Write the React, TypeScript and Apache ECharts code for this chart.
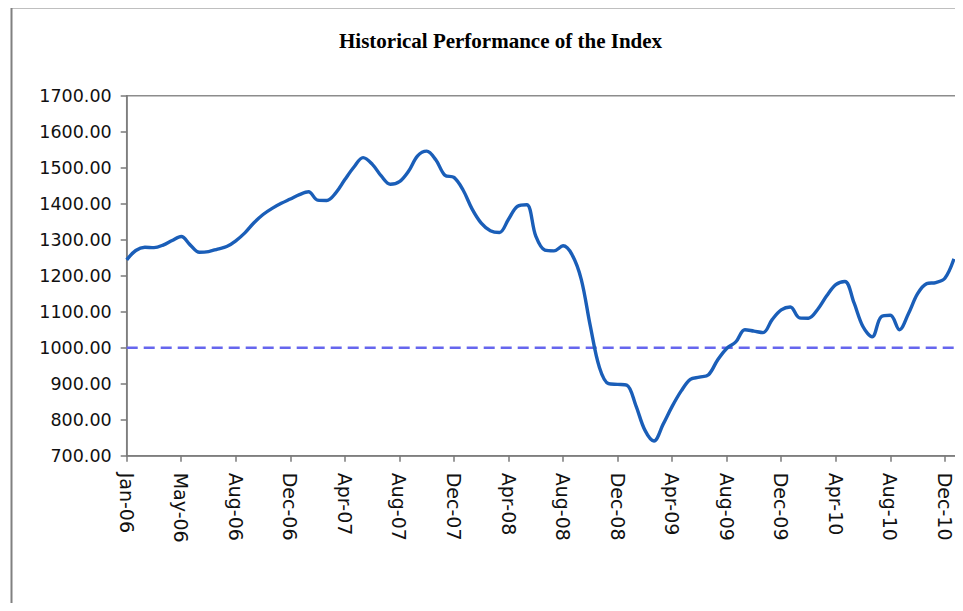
import React, { useEffect, useRef } from "react";
import * as echarts from "echarts";

// Tick labels (one every 6 samples on the x axis)
const tickLabels = [
  "Jan-06", "May-06", "Aug-06", "Dec-06", "Apr-07", "Aug-07", "Dec-07", "Apr-08",
  "Aug-08", "Dec-08", "Apr-09", "Aug-09", "Dec-09", "Apr-10", "Aug-10", "Dec-10",
];
const samplesPerTick = 6;
const xMax = 91.3;

const indexValues = [
  1244, 1270, 1279, 1278, 1285, 1298, 1309, 1285, 1265, 1267,
  1274, 1281, 1297, 1319, 1347, 1370, 1387, 1401, 1413, 1425,
  1433, 1410, 1409, 1430, 1467, 1502, 1528, 1510, 1477, 1454,
  1461, 1490, 1533, 1546, 1522, 1479, 1473, 1438, 1385, 1346,
  1325, 1320, 1357, 1393, 1397, 1310, 1271, 1269, 1283, 1258,
  1190, 1060, 945, 900, 898, 896, 840, 771, 741, 787,
  837, 880, 912, 918, 925, 966, 998, 1016, 1050, 1046,
  1042, 1078, 1105, 1113, 1083, 1082, 1106, 1144, 1175, 1184,
  1125, 1058, 1030, 1086, 1090, 1050, 1095, 1150, 1178, 1181,
  1193, 1247,
];
const baseLevel = 1000;

const yMin = 700;
const yMax = 1700;
const yStep = 100;

export default function App() {
  const ref = useRef<HTMLDivElement>(null);

  useEffect(() => {
    if (!ref.current) return;
    const chart = echarts.init(ref.current, null, { renderer: "svg" });
    const lineData = indexValues.map((v, i) => [i, v]);
    chart.setOption({
      animation: false,
      backgroundColor: "#ffffff",
      title: {
        text: "Historical Performance of the Index",
        left: 334,
        top: 25,
        textStyle: {
          fontFamily: "Liberation Serif",
          fontWeight: "bold",
          fontSize: 21,
          color: "#000000",
        },
      },
      graphic: [
        {
          type: "line",
          shape: { x1: 11, y1: 7.5, x2: 963, y2: 7.5 },
          style: { stroke: "#808080", lineWidth: 2 },
          silent: true,
        },
        {
          type: "line",
          shape: { x1: 11.5, y1: 7, x2: 11.5, y2: 611 },
          style: { stroke: "#808080", lineWidth: 2 },
          silent: true,
        },
      ],
      grid: {
        left: 126.7,
        top: 95.7,
        right: 6.3,
        bottom: 155.3,
        containLabel: false,
        outerBoundsMode: "none",
        show: true,
        borderColor: "#8c8c8c",
        borderWidth: 1.5,
      },
      xAxis: {
        type: "value",
        min: 0,
        max: xMax,
        interval: samplesPerTick,
        splitLine: { show: false },
        axisLine: { show: true, lineStyle: { color: "#7a7a7a", width: 1.5 } },
        axisTick: { show: true, length: 6, lineStyle: { color: "#7a7a7a", width: 1.5 } },
        axisLabel: {
          rotate: -90,
          margin: 17,
          fontFamily: "DejaVu Sans",
          fontSize: 19,
          color: "#111111",
          showMaxLabel: false,
          formatter: (v: number) => {
            const k = Math.round(v / samplesPerTick);
            if (Math.abs(v - k * samplesPerTick) > 1e-6) return "";
            return tickLabels[k] ?? "";
          },
        },
      },
      yAxis: {
        type: "value",
        min: yMin,
        max: yMax,
        interval: yStep,
        splitLine: { show: false },
        axisLine: { show: true, lineStyle: { color: "#7a7a7a", width: 1.5 } },
        axisTick: { show: true, length: 6, lineStyle: { color: "#7a7a7a", width: 1.5 } },
        axisLabel: {
          margin: 15,
          fontFamily: "DejaVu Sans",
          fontSize: 17.5,
          color: "#111111",
          formatter: (v: number) => v.toFixed(2),
        },
      },
      series: [
        {
          type: "line",
          data: [
            [0, baseLevel],
            [xMax, baseLevel],
          ],
          symbol: "none",
          lineStyle: { color: "#6666ee", width: 2.5, type: [11, 6] },
          z: 1,
        },
        {
          type: "line",
          data: lineData,
          smooth: 0.35,
          symbol: "none",
          lineStyle: { color: "#1a5eb8", width: 3.4 },
          z: 2,
        },
      ],
    });
    return () => chart.dispose();
  }, []);

  return <div ref={ref} style={{ width: 963, height: 611, margin: -8 }} />;
}
